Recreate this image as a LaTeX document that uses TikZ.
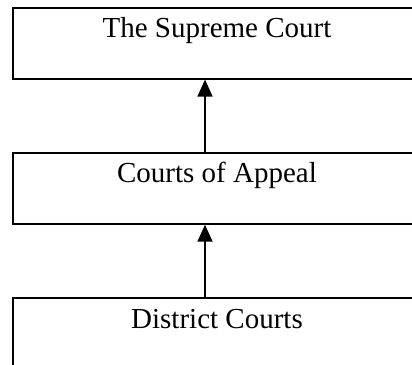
\documentclass[tikz,border=0pt]{standalone}
\usepackage{fontspec}
\setmainfont{Liberation Serif}
\usetikzlibrary{arrows.meta,positioning}
\tikzset{
  court/.style={draw=black, line width=1.6pt, minimum width=408pt, inner sep=0pt, text height=30pt, text depth=41pt, align=center, font=\fontsize{29}{34}\selectfont},
  appeal/.style={-{Triangle[length=17pt,width=15pt]}, line width=1.6pt, draw=black}
}
\begin{document}
\begin{tikzpicture}[node distance=72.5pt]
  \useasboundingbox (0pt,0pt) rectangle (412pt,364pt);
  \node[court, anchor=north] (supreme) at (217pt,357pt) {The Supreme Court};
  \node[court, below=of supreme] (appeals) {Courts of Appeal};
  \node[court, below=of appeals] (district) {District Courts};

  \draw[appeal] ([xshift=-12pt]appeals.north) -- ([xshift=-12pt]supreme.south);
  \draw[appeal] ([xshift=-12pt]district.north) -- ([xshift=-12pt]appeals.south);
\end{tikzpicture}
\end{document}
